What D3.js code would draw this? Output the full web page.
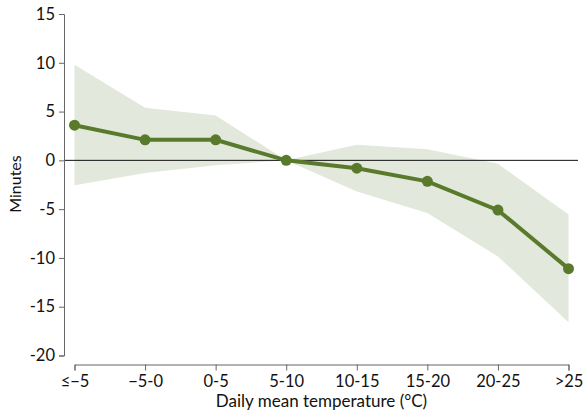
<!DOCTYPE html>
<html>
<head>
<meta charset="utf-8">
<script src="https://cdn.jsdelivr.net/npm/d3@7"></script>
<style>
  html, body { margin: 0; padding: 0; background: #fff; }
  svg { display: block; font-family: Lato, "Open Sans", sans-serif; }
</style>
</head>
<body>
<svg id="chart" width="584" height="411"></svg>
<script>
// temperature bins
const categories = ['≤−5', '−5-0', '0-5', '5-10', '10-15', '15-20', '20-25', '>25']
// point estimate, minutes
const estimate = [3.6, 2.1, 2.1, 0, -0.8, -2.15, -5.1, -11.1]
// confidence band
const upper = [9.8, 5.4, 4.6, 0, 1.6, 1.15, -0.35, -5.55]
const lower = [-2.55, -1.3, -0.5, 0, -3.2, -5.4, -9.85, -16.6]
const yTicks = [15, 10, 5, 0, -5, -10, -15, -20]

const svg = d3.select('#chart')

const x = d3.scalePoint().domain(categories).range([74.5, 568.5])
const y = d3.scaleLinear().domain([-20, 15]).range([355.5, 14])

const rows = categories.map((c, i) => ({ c, v: estimate[i], hi: upper[i], lo: lower[i] }))

// band
svg.append('path')
  .datum(rows)
  .attr('fill', '#e2e8dc')
  .attr('d', d3.area().x(d => x(d.c)).y0(d => y(d.lo)).y1(d => y(d.hi)))

// zero line
svg.append('line')
  .attr('x1', 64).attr('x2', 578)
  .attr('y1', y(0)).attr('y2', y(0))
  .attr('stroke', '#111').attr('stroke-width', 1)

// estimate line
svg.append('path')
  .datum(rows)
  .attr('fill', 'none')
  .attr('stroke', '#5a7a2b')
  .attr('stroke-width', 4)
  .attr('d', d3.line().x(d => x(d.c)).y(d => y(d.v)))

svg.append('g').selectAll('circle')
  .data(rows)
  .join('circle')
  .attr('cx', d => x(d.c))
  .attr('cy', d => y(d.v))
  .attr('r', 5.5)
  .attr('fill', '#5a7a2b')

// Axes
const yAxis = svg.append('g')
  .attr('transform', 'translate(64,0)')
  .call(d3.axisLeft(y).tickValues(yTicks).tickSize(5).tickPadding(4).tickFormat(d3.format('d')))
const xAxis = svg.append('g')
  .attr('transform', 'translate(0,364.5)')
  .call(d3.axisBottom(x).tickSize(6).tickPadding(5))

for (const ax of [yAxis, xAxis]) {
  ax.select('.domain').attr('stroke', '#666')
  ax.selectAll('.tick line').attr('stroke', '#666')
  ax.selectAll('text').attr('fill', '#111').attr('font-size', 16.5).attr('font-family', 'Lato, sans-serif')
}
yAxis.selectAll('text').text(d => d < 0 ? '-' + Math.abs(d) : d)

svg.append('text')
  .attr('x', 321.5).attr('y', 407)
  .attr('text-anchor', 'middle')
  .attr('font-size', 17)
  .attr('fill', '#111')
  .text('Daily mean temperature (°C)')

svg.append('text')
  .attr('transform', 'translate(21,184) rotate(-90)')
  .attr('text-anchor', 'middle')
  .attr('font-size', 16)
  .attr('fill', '#111')
  .text('Minutes')
</script>
</body>
</html>
